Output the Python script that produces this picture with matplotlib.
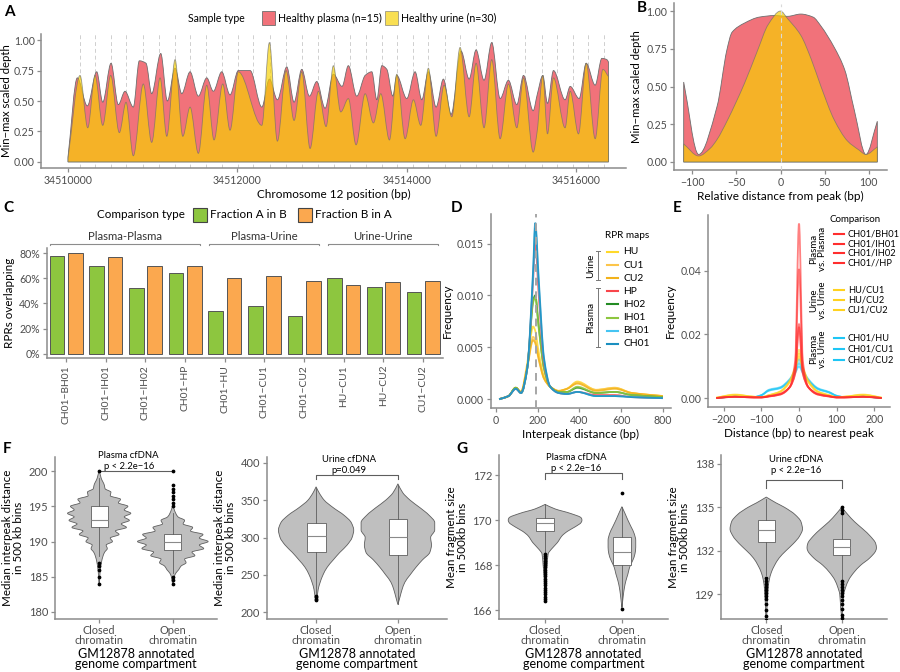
import numpy as np
import matplotlib
matplotlib.use("Agg")
import matplotlib.pyplot as plt
from matplotlib.path import Path
from matplotlib.patches import PathPatch, Rectangle
from matplotlib.lines import Line2D

plt.rcParams["font.family"] = ["Lato", "DejaVu Sans"]

# ---------------- data ----------------
# A: coverage around chr12 (bp offset from 34510000, min-max scaled depth at local extrema)
a_base = 34510000
a_peaks = [142, 319, 504, 685, 885, 1074, 1263, 1440, 1629, 1818, 2007, 2184, 2385, 2574,
           2766, 2955, 3140, 3329, 3518, 3704, 3881, 4077, 4254, 4451, 4628, 4817, 5002,
           5198, 5396, 5593, 5770, 5959, 6143, 6328]
plasma_x = [0, 110, 228, 339, 410, 508, 594, 673, 771, 842, 921, 988, 1095, 1173, 1264, 1343,
            1441, 1539, 1638, 1716, 1815, 1913, 2011, 2150, 2288, 2378, 2472, 2583, 2669, 2760,
            2850, 2937, 3035, 3133, 3236, 3310, 3409, 3508, 3587, 3646, 3705, 3764, 3835, 3882,
            4000, 4098, 4177, 4255, 4346, 4432, 4523, 4641, 4736, 4818, 4912, 5003, 5102, 5200,
            5299, 5378, 5492, 5539, 5606, 5661, 5732, 5869, 5929, 6035, 6118, 6224, 6303, 6362, 6381]
plasma_y = [0.04, 0.69, 0.46, 0.74, 0.49, 0.81, 0.47, 0.58, 0.45, 0.83, 0.81, 0.56, 0.89, 0.50,
            0.77, 0.56, 0.74, 0.54, 0.69, 0.58, 0.74, 0.55, 0.75, 0.75, 0.45, 0.68, 0.51, 0.78,
            0.49, 0.76, 0.54, 0.66, 0.44, 0.72, 0.62, 0.79, 0.54, 0.71, 0.74, 0.51, 0.79, 0.76,
            0.54, 0.71, 0.52, 0.74, 0.51, 0.74, 0.45, 0.68, 0.39, 0.91, 0.68, 0.92, 0.67, 0.98,
            0.52, 0.67, 0.47, 0.71, 0.42, 0.55, 0.71, 0.48, 0.75, 0.51, 0.62, 0.52, 0.81, 0.63,
            0.85, 0.84, 0.82]
urine_x = [0, 142, 233, 319, 410, 504, 606, 685, 771, 889, 988, 1087, 1166, 1264, 1355, 1441,
           1539, 1638, 1724, 1827, 1913, 2011, 2288, 2378, 2472, 2575, 2669, 2760, 2858, 2956,
           3047, 3133, 3220, 3310, 3401, 3508, 3606, 3693, 3795, 3882, 3980, 4078, 4165, 4255,
           4346, 4440, 4531, 4629, 4736, 4818, 4912, 5003, 5102, 5200, 5299, 5378, 5492, 5539,
           5606, 5661, 5732, 5869, 5929, 6027, 6118, 6224, 6315, 6381]
urine_y = [0.03, 0.71, 0.28, 0.71, 0.30, 0.71, 0.24, 0.49, 0.05, 0.64, 0.16, 0.69, 0.21, 0.84,
           0.21, 0.45, 0.07, 0.63, 0.18, 0.64, 0.26, 0.74, 0.30, 0.98, 0.17, 0.75, 0.34, 0.74,
           0.11, 0.58, 0.29, 0.79, 0.41, 0.52, 0.14, 0.56, 0.32, 0.56, 0.18, 0.72, 0.19, 0.51,
           0.30, 0.77, 0.21, 0.63, 0.37, 0.94, 0.37, 0.81, 0.28, 0.84, 0.19, 0.64, 0.28, 0.69,
           0.08, 0.25, 0.71, 0.23, 0.69, 0.28, 0.58, 0.23, 0.81, 0.19, 0.76, 0.70]

# B: aggregate profile around peaks
b_plasma_x = [-110, -93, -72, -61, -55, -41, -24, -7, 8, 23, 37, 46, 61, 73, 84, 97, 110]
b_plasma_y = [0.53, 0.05, 0.37, 0.74, 0.86, 0.92, 0.96, 0.97, 0.965, 0.98, 0.96, 0.90, 0.76,
              0.61, 0.34, 0.05, 0.27]
b_urine_x = [-110, -93, -80, -72, -60, -41, -26, -14, 0, 8, 23, 35, 46, 61, 76, 89, 97, 110]
b_urine_y = [0.12, 0.04, 0.09, 0.15, 0.28, 0.52, 0.74, 0.91, 1.00, 0.95, 0.84, 0.68, 0.50,
             0.28, 0.14, 0.08, 0.05, 0.10]

# C: RPR overlap
c_pairs = ["CH01−BH01", "CH01−IH01", "CH01−IH02", "CH01−HP", "CH01−HU", "CH01−CU1",
           "CH01−CU2", "HU−CU1", "HU−CU2", "CU1−CU2"]
frac_a_in_b = [78, 70, 52, 64, 34, 38, 30, 60, 53, 49]
frac_b_in_a = [80, 77, 70, 70, 60, 62, 58, 55, 57, 58]
c_groups = [("Plasma-Plasma", 0, 3), ("Plasma-Urine", 4, 6), ("Urine-Urine", 7, 9)]

# D: interpeak distance densities
d_x = [15, 60, 95, 120, 150, 178, 188, 205, 230, 260, 300, 340, 390, 480, 570, 650, 800]
d_series = {
    "HU":   [0, 0.0003, 0.0011, 0.0007, 0.0035, 0.0070, 0.0066, 0.0045, 0.0022, 0.0012, 0.0008, 0.0010, 0.0017, 0.0009, 0.0011, 0.0006, 0.0003],
    "CU1":  [0, 0.0003, 0.0011, 0.0007, 0.0032, 0.0060, 0.0057, 0.0040, 0.0020, 0.0012, 0.0008, 0.0010, 0.0016, 0.0009, 0.0011, 0.0006, 0.0003],
    "CU2":  [0, 0.0003, 0.0011, 0.0007, 0.0031, 0.0057, 0.0054, 0.0038, 0.0020, 0.0012, 0.0008, 0.0010, 0.0015, 0.0008, 0.0010, 0.0006, 0.0003],
    "HP":   [0, 0.0003, 0.0010, 0.0006, 0.0030, 0.0115, 0.0150, 0.0100, 0.0035, 0.0012, 0.0006, 0.0005, 0.0007, 0.0004, 0.0004, 0.0002, 0.0001],
    "IH02": [0, 0.0003, 0.0011, 0.0006, 0.0030, 0.0095, 0.0100, 0.0070, 0.0030, 0.0012, 0.0007, 0.0007, 0.0011, 0.0006, 0.0007, 0.0004, 0.0002],
    "IH01": [0, 0.0003, 0.0011, 0.0006, 0.0030, 0.0093, 0.0098, 0.0068, 0.0030, 0.0012, 0.0007, 0.0007, 0.0012, 0.0006, 0.0007, 0.0004, 0.0002],
    "BH01": [0, 0.0003, 0.0010, 0.0006, 0.0030, 0.0120, 0.0165, 0.0110, 0.0038, 0.0012, 0.0006, 0.0005, 0.0007, 0.0003, 0.0003, 0.0002, 0.0001],
    "CH01": [0, 0.0003, 0.0010, 0.0006, 0.0030, 0.0125, 0.0170, 0.0115, 0.0040, 0.0012, 0.0006, 0.0005, 0.0007, 0.0003, 0.0003, 0.0002, 0.0001],
}
d_colors = {"HU": "#FFD92A", "CU1": "#FCC54A", "CU2": "#F2B21B", "HP": "#F8454B",
            "IH02": "#238B23", "IH01": "#8DC63F", "BH01": "#45C4F2", "CH01": "#1B8FC0"}

# E: distance to nearest peak
e_x = [-220, -170, -120, -100, -80, -50, -25, -10, 0, 10, 25, 50, 80, 100, 120, 170, 220]
e_series = {
    "CH01/BH01": [0.0001, 0.0005, 0.0003, 0.0003, 0.0006, 0.0012, 0.0035, 0.0120, 0.0547, 0.0120, 0.0035, 0.0012, 0.0006, 0.0003, 0.0003, 0.0005, 0.0001],
    "CH01/IH01": [0.0001, 0.0005, 0.0003, 0.0003, 0.0006, 0.0012, 0.0034, 0.0100, 0.0405, 0.0100, 0.0034, 0.0012, 0.0006, 0.0003, 0.0003, 0.0005, 0.0001],
    "CH01/IH02": [0.0001, 0.0005, 0.0003, 0.0003, 0.0007, 0.0014, 0.0035, 0.0080, 0.0232, 0.0080, 0.0035, 0.0014, 0.0007, 0.0003, 0.0003, 0.0005, 0.0001],
    "CH01//HP":  [0.0001, 0.0005, 0.0003, 0.0003, 0.0007, 0.0014, 0.0035, 0.0078, 0.0222, 0.0078, 0.0035, 0.0014, 0.0007, 0.0003, 0.0003, 0.0005, 0.0001],
    "HU/CU1":    [0.0002, 0.0012, 0.0005, 0.0004, 0.0010, 0.0022, 0.0055, 0.0100, 0.0152, 0.0100, 0.0055, 0.0022, 0.0010, 0.0004, 0.0005, 0.0012, 0.0002],
    "HU/CU2":    [0.0002, 0.0011, 0.0005, 0.0004, 0.0010, 0.0021, 0.0052, 0.0095, 0.0140, 0.0095, 0.0052, 0.0021, 0.0010, 0.0004, 0.0005, 0.0011, 0.0002],
    "CU1/CU2":   [0.0002, 0.0010, 0.0005, 0.0004, 0.0009, 0.0020, 0.0050, 0.0090, 0.0130, 0.0090, 0.0050, 0.0020, 0.0009, 0.0004, 0.0005, 0.0010, 0.0002],
    "CH01/HU":   [0.0001, 0.0006, 0.0004, 0.0010, 0.0027, 0.0035, 0.0060, 0.0090, 0.0122, 0.0090, 0.0060, 0.0032, 0.0020, 0.0008, 0.0004, 0.0006, 0.0001],
    "CH01/CU1":  [0.0001, 0.0006, 0.0004, 0.0010, 0.0025, 0.0033, 0.0057, 0.0085, 0.0110, 0.0085, 0.0057, 0.0030, 0.0019, 0.0008, 0.0004, 0.0006, 0.0001],
    "CH01/CU2":  [0.0001, 0.0006, 0.0004, 0.0010, 0.0024, 0.0032, 0.0055, 0.0080, 0.0100, 0.0080, 0.0055, 0.0029, 0.0018, 0.0008, 0.0004, 0.0006, 0.0001],
}
e_groups = [("Plasma\nvs. Plasma", ["CH01/BH01", "CH01/IH01", "CH01/IH02", "CH01//HP"], "#FF2E2E"),
            ("Urine\nvs. Urine", ["HU/CU1", "HU/CU2", "CU1/CU2"], "#FFD21F"),
            ("Plasma\nvs. Urine", ["CH01/HU", "CH01/CU1", "CH01/CU2"], "#1EC6F5")]

# F / G: violin profiles (value level, half width in category units) and box stats
f_plasma = {
    "closed": ([184, 185, 186, 187, 188, 188.5, 189, 189.5, 190, 190.5, 191, 191.5, 192, 192.5, 193,
                193.5, 194, 194.5, 195, 195.5, 196, 196.5, 197, 197.5, 198, 199, 200],
               [0.004, 0.008, 0.016, 0.03, 0.054, 0.075, 0.11, 0.095, 0.18, 0.15, 0.27, 0.22, 0.37,
                0.30, 0.41, 0.34, 0.43, 0.34, 0.39, 0.26, 0.29, 0.15, 0.16, 0.08, 0.07, 0.027, 0.004],
               dict(q1=192, med=193, q3=195, whislo=188, whishi=199,
                    fliers=[200, 187, 186.5, 186, 185, 184])),
    "open": ([184, 185, 185.5, 186, 186.5, 187, 187.5, 188, 188.5, 189, 189.5, 190, 190.5, 191,
              191.5, 192, 192.5, 193, 193.5, 194, 194.5, 195],
             [0.004, 0.02, 0.04, 0.08, 0.11, 0.18, 0.16, 0.30, 0.26, 0.42, 0.36, 0.48, 0.36, 0.41,
              0.24, 0.27, 0.14, 0.16, 0.07, 0.04, 0.02, 0.005],
             dict(q1=188.75, med=190, q3=191, whislo=185.5, whishi=194,
                  fliers=[200, 198, 197.5, 197, 196.5, 196, 195.5, 195, 185, 184.5, 184])),
}
f_urine = {
    "closed": ([215, 220, 230, 240, 250, 260, 270, 280, 290, 300, 310, 320, 330, 340, 350, 360, 368],
               [0, 0.012, 0.025, 0.05, 0.085, 0.135, 0.21, 0.29, 0.38, 0.44, 0.46, 0.43, 0.34, 0.21,
                0.10, 0.037, 0],
               dict(q1=281, med=302, q3=319, whislo=224, whishi=366,
                    fliers=[222, 220, 218, 216])),
    "open": ([210, 220, 230, 240, 250, 260, 270, 280, 290, 300, 310, 320, 330, 340, 350, 360, 372],
             [0, 0.025, 0.05, 0.085, 0.15, 0.22, 0.30, 0.39, 0.41, 0.40, 0.45, 0.45, 0.38, 0.27,
              0.15, 0.06, 0],
             dict(q1=277, med=301, q3=325, whislo=211, whishi=371, fliers=[])),
}
g_plasma = {
    "closed": ([166.4, 167, 167.5, 168, 168.5, 168.7, 169, 169.3, 169.5, 169.7, 169.9, 170, 170.1,
                170.3, 170.5, 170.7],
               [0, 0.007, 0.013, 0.026, 0.04, 0.08, 0.16, 0.22, 0.29, 0.39, 0.47, 0.48, 0.47, 0.33,
                0.13, 0],
               dict(q1=169.5, med=169.87, q3=170.1, whislo=168.6, whishi=170.7,
                    fliers=[168.5, 168.4, 168.3, 168.2, 168.1, 168.0, 167.9, 167.8, 167.7, 167.6,
                            167.5, 167.4, 167.3, 167.2, 167.1, 167.0, 166.9, 166.8, 166.7, 166.6,
                            166.5, 166.4])),
    "open": ([166.1, 166.4, 166.7, 167, 167.3, 167.6, 167.9, 168.2, 168.5, 168.8, 169.1, 169.4,
              169.7, 170, 170.3, 170.6],
             [0, 0.01, 0.02, 0.033, 0.052, 0.078, 0.10, 0.14, 0.17, 0.18, 0.18, 0.16, 0.12, 0.078,
              0.04, 0],
             dict(q1=168.0, med=168.6, q3=169.25, whislo=166.2, whishi=170.6,
                  fliers=[171.2, 166.05])),
}
g_urine = {
    "closed": ([126.8, 127, 128, 129, 129.5, 130, 130.5, 131, 131.5, 132, 132.5, 133, 133.5, 134,
                134.5, 135, 135.3, 135.7],
               [0, 0.004, 0.009, 0.02, 0.026, 0.04, 0.066, 0.11, 0.17, 0.26, 0.36, 0.44, 0.48, 0.46,
                0.38, 0.24, 0.13, 0],
               dict(q1=132.6, med=133.45, q3=134.15, whislo=130.3, whishi=135.6,
                    fliers=[130.1, 129.9, 129.7, 129.5, 129.3, 129.1, 128.9, 128.7, 128.3, 127.9,
                            127.5, 127.2, 127.0, 126.9])),
    "open": ([127.4, 128, 129, 129.5, 130, 130.5, 131, 131.5, 132, 132.2, 132.5, 133, 133.5, 134,
              134.5, 135],
             [0, 0.013, 0.026, 0.053, 0.093, 0.16, 0.25, 0.37, 0.45, 0.46, 0.45, 0.38, 0.28, 0.17,
              0.08, 0],
             dict(q1=131.7, med=132.25, q3=132.8, whislo=130.05, whishi=134.45,
                  fliers=[134.6, 134.8, 135.0, 129.9, 129.7, 129.5, 129.3, 129.1, 128.9, 128.6,
                          128.3, 128.0, 127.6, 127.4])),
}

# ---------------- helpers ----------------
W, H = 900, 672
fig = plt.figure(figsize=(9, 6.72), dpi=100)
AX_COL = "#8c8c8c"
TXT = "#4d4d4d"
RED = "#F1727A"
YEL = (0.97, 0.82, 0.0)
TICK = 7.6


def add_ax(l, t, r, b):
    return fig.add_axes([l / W, 1 - b / H, (r - l) / W, (b - t) / H])


def ftext(x, y, s, **kw):
    kw.setdefault("va", "center")
    return fig.text(x / W, 1 - y / H, s, **kw)


def style(ax):
    for s in ["top", "right"]:
        ax.spines[s].set_visible(False)
    for s in ["left", "bottom"]:
        ax.spines[s].set_color(AX_COL)
        ax.spines[s].set_linewidth(1.1)
    ax.tick_params(color=AX_COL, labelcolor=TXT, labelsize=TICK, length=3, width=0.9, pad=2)
    ax.patch.set_alpha(0)


def bezier(xs, ys):
    # smooth monotone curve through the given points (drawn as cubic bezier segments)
    xs = np.asarray(xs, float)
    ys = np.asarray(ys, float)
    d = np.diff(ys) / np.diff(xs)
    m = np.zeros(len(xs))
    m[0], m[-1] = d[0], d[-1]
    for i in range(1, len(xs) - 1):
        if d[i - 1] * d[i] > 0:
            m[i] = 2 * d[i - 1] * d[i] / (d[i - 1] + d[i])
    pts = [(xs[0], ys[0])]
    for i in range(len(xs) - 1):
        h = xs[i + 1] - xs[i]
        pts += [(xs[i] + h / 3, ys[i] + m[i] * h / 3),
                (xs[i + 1] - h / 3, ys[i + 1] - m[i + 1] * h / 3),
                (xs[i + 1], ys[i + 1])]
    return pts


def line_path(xs, ys):
    pts = bezier(xs, ys)
    return Path(pts, [Path.MOVETO] + [Path.CURVE4] * (len(pts) - 1))


def area_path(xs, ys):
    pts = bezier(xs, ys)
    pts += [(xs[-1], 0), (xs[0], 0), (xs[0], ys[0])]
    codes = [Path.MOVETO] + [Path.CURVE4] * (len(pts) - 4) + [Path.LINETO, Path.LINETO, Path.CLOSEPOLY]
    return Path(pts, codes)


def violin(ax, pos, levels, half, stats):
    levels = np.asarray(levels, float)
    half = np.asarray(half, float)
    right = [(b, a) for a, b in bezier(levels, pos + half)]
    left = [(b, a) for a, b in bezier(levels[::-1], pos - half[::-1])]
    verts = right + left + [right[0]]
    codes = ([Path.MOVETO] + [Path.CURVE4] * (len(right) - 1) + [Path.LINETO]
             + [Path.CURVE4] * (len(left) - 1) + [Path.CLOSEPOLY])
    ax.add_patch(PathPatch(Path(verts, codes), facecolor="#bfbfbf", edgecolor="#5e5e5e",
                           lw=0.6, zorder=1))
    ax.bxp([stats], positions=[pos], widths=0.23, showcaps=False, patch_artist=True,
           manage_ticks=False, zorder=3,
           boxprops=dict(facecolor="white", edgecolor="#5e5e5e", linewidth=0.6),
           whiskerprops=dict(color="#5e5e5e", linewidth=0.6),
           medianprops=dict(color="#8a8a8a", linewidth=0.8),
           flierprops=dict(marker="o", markersize=1.7, markerfacecolor="black",
                           markeredgecolor="black", linestyle="none"))


def violin_panel(box, data, ylim, yticks, ylabel, title, ptext, bracket, title_y):
    ax = add_ax(*box)
    style(ax)
    for pos, key in enumerate(["closed", "open"]):
        lv, hw, st = data[key]
        violin(ax, pos, lv, hw, st)
    ax.set_xlim(-0.6, 1.6)
    ax.set_ylim(*ylim)
    ax.set_yticks(yticks)
    ax.set_xticks([0, 1])
    ax.set_xticklabels(["Closed\nchromatin", "Open\nchromatin"], fontsize=7.8, linespacing=0.88)
    ax.tick_params(axis="y", labelsize=8)
    ax.tick_params(axis="x", pad=1.5)
    ax.set_ylabel(ylabel, fontsize=8.4, color="black", linespacing=1.0, labelpad=3)
    ax.set_xlabel("GM12878 annotated\ngenome compartment", fontsize=9.0, linespacing=0.88,
                  labelpad=1)
    y0, y1 = bracket
    ax.plot([0, 0, 1, 1], [y0, y1, y1, y0], color="#5e5e5e", lw=0.8, clip_on=False)
    cx = (box[0] + box[2]) / 2 - 0.1 * (box[2] - box[0]) / 2.2
    ftext(cx, title_y, title, ha="center", fontsize=6.8)
    ftext(cx, title_y + 11.5, ptext, ha="center", fontsize=6.8)
    return ax


# ---------------- panel A ----------------
axA = add_ax(41, 34, 626, 168)
style(axA)
for p in a_peaks:
    axA.axvline(a_base + p, color="#cfcfcf", lw=0.7, ls=(0, (4, 3)), zorder=0)
axA.add_patch(PathPatch(area_path(a_base + np.array(plasma_x), plasma_y), facecolor=RED,
                        edgecolor="#6e6e6e", lw=0.6, zorder=1))
axA.add_patch(PathPatch(area_path(a_base + np.array(urine_x), urine_y), facecolor=YEL, alpha=0.68,
                        edgecolor="#6e6e6e", lw=0.6, zorder=2))
axA.set_xlim(a_base - 319, a_base + 6588)
axA.set_ylim(-0.05, 1.05)
axA.set_xticks([a_base, a_base + 2000, a_base + 4000, a_base + 6000])
axA.set_xticklabels([str(a_base), str(a_base + 2000), str(a_base + 4000), str(a_base + 6000)])
axA.set_yticks([0, 0.25, 0.5, 0.75, 1.0])
axA.set_yticklabels(["0.00", "0.25", "0.50", "0.75", "1.00"])
axA.tick_params(axis="y", pad=1.5)
axA.set_xlabel("Chromosome 12 position (bp)", fontsize=8.5, labelpad=2)
axA.set_ylabel("Min−max scaled depth", fontsize=8.2, labelpad=1.5)

ftext(188, 18, "Sample type", fontsize=7.6)
for x0, col, al, lab in [(262, RED, 1, "Healthy plasma (n=15)"),
                         (385, YEL, 0.68, "Healthy urine (n=30)")]:
    fig.add_artist(Rectangle((x0 / W, 1 - 25 / H), 13 / W, 14 / H, facecolor=col, alpha=al,
                             edgecolor="#6e6e6e", lw=0.6, transform=fig.transFigure))
    ftext(x0 + 16, 18, lab, fontsize=7.6)

# ---------------- panel B ----------------
axB = add_ax(674, 3.5, 887, 170)
style(axB)
axB.add_patch(PathPatch(area_path(b_plasma_x, b_plasma_y), facecolor=RED, edgecolor="#6e6e6e",
                        lw=0.6, zorder=1))
axB.add_patch(PathPatch(area_path(b_urine_x, b_urine_y), facecolor=YEL, alpha=0.68,
                        edgecolor="#6e6e6e", lw=0.6, zorder=2))
axB.axvline(0, color="#d9d9d9", lw=0.8, ls=(0, (4, 3)), zorder=3)
axB.set_xlim(-121, 121)
axB.set_ylim(-0.053, 1.05)
axB.set_xticks([-100, -50, 0, 50, 100])
axB.set_yticks([0, 0.25, 0.5, 0.75, 1.0])
axB.set_yticklabels(["0.00", "0.25", "0.50", "0.75", "1.00"])
axB.set_xlabel("Relative distance from peak (bp)", fontsize=8.5, labelpad=2)
axB.set_ylabel("Min−max scaled depth", fontsize=8.2, labelpad=3)

# ---------------- panel C ----------------
GREEN, ORANGE = "#8DC63F", "#FBA84F"
axC = add_ax(47, 248, 443, 358)
style(axC)
xc = np.arange(len(c_pairs))
axC.bar(xc - 0.23, frac_a_in_b, 0.37, color=GREEN, edgecolor="#555555", lw=0.7)
axC.bar(xc + 0.23, frac_b_in_a, 0.37, color=ORANGE, edgecolor="#555555", lw=0.7)
axC.set_xlim(-0.48, 9.5)
axC.set_ylim(-3.3, 84)
axC.set_yticks([0, 20, 40, 60, 80])
axC.set_yticklabels(["0%", "20%", "40%", "60%", "80%"])
axC.set_xticks(xc)
axC.set_xticklabels(c_pairs, rotation=90, fontsize=7.4)
axC.set_ylabel("RPRs overlapping", fontsize=8.4, labelpad=3)
for lab, i0, i1 in c_groups:
    a, b = i0 - 0.4, i1 + 0.38
    axC.plot([a, a, b, b], [86, 87.3, 87.3, 86], color="#8c8c8c", lw=0.8, clip_on=False)
    axC.text((a + b) / 2, 89, lab, ha="center", va="bottom", fontsize=8.2, color="#333333",
             clip_on=False)

ftext(97, 215, "Comparison type", fontsize=8.4)
for x0, col, lab in [(193, GREEN, "Fraction A in B"), (298, ORANGE, "Fraction B in A")]:
    fig.add_artist(Rectangle((x0 / W, 1 - 222 / H), 14 / W, 14 / H, facecolor=col,
                             edgecolor="#444444", lw=0.8, transform=fig.transFigure))
    ftext(x0 + 17, 215, lab, fontsize=8.4)

# ---------------- panel D ----------------
axD = add_ax(491, 214, 671, 408)
style(axD)
for name in ["HU", "CU1", "CU2", "IH02", "IH01", "HP", "BH01", "CH01"]:
    axD.add_patch(PathPatch(line_path(d_x, d_series[name]), facecolor="none",
                            edgecolor=d_colors[name], lw=1.3, alpha=0.85))
axD.axvline(190, color="#a6a6a6", lw=1.4, ls=(0, (4, 3)), zorder=5)
axD.set_xlim(-24, 839)
axD.set_ylim(-0.00085, 0.01785)
axD.set_xticks([0, 200, 400, 600, 800])
axD.set_yticks([0, 0.005, 0.010, 0.015])
axD.set_yticklabels(["0.000", "0.005", "0.010", "0.015"])
axD.set_xlabel("Interpeak distance (bp)", fontsize=8.4, labelpad=2)
axD.set_ylabel("Frequency", fontsize=8.4, labelpad=3)

ftext(605, 236, "RPR maps", fontsize=7.2)
d_rows = ["HU", "CU1", "CU2", "HP", "IH02", "IH01", "BH01", "CH01"]
for k, name in enumerate(d_rows):
    yy = 252 + k * 13.1
    fig.add_artist(Line2D([607 / W, 618 / W], [1 - yy / H, 1 - yy / H], color=d_colors[name],
                          lw=1.5, transform=fig.transFigure))
    ftext(623, yy, name, fontsize=7.4)
for lab, y0, y1 in [("Urine", 251, 280), ("Plasma", 288, 347)]:
    fig.add_artist(Line2D([598 / W, 598 / W], [1 - y0 / H, 1 - y1 / H], color="#777777",
                          lw=0.7, transform=fig.transFigure))
    for yy in (y0, y1):
        fig.add_artist(Line2D([596 / W, 600 / W], [1 - yy / H, 1 - yy / H], color="#777777",
                              lw=0.7, transform=fig.transFigure))
    ftext(591, (y0 + y1) / 2, lab, rotation=90, ha="center", fontsize=7.2)

# ---------------- panel E ----------------
axE = add_ax(708, 215, 890, 407)
style(axE)
for lab, names, col in e_groups[::-1]:
    for name in names:
        axE.add_patch(PathPatch(line_path(e_x, e_series[name]), facecolor="none",
                                edgecolor=col, lw=1.3, alpha=0.6))
axE.set_xlim(-242, 242)
axE.set_ylim(-0.0027, 0.0574)
axE.set_xticks([-200, -100, 0, 100, 200])
axE.set_yticks([0, 0.02, 0.04])
axE.set_yticklabels(["0.00", "0.02", "0.04"])
axE.set_xlabel("Distance (bp) to nearest peak", fontsize=8.4, labelpad=2)
axE.set_ylabel("Frequency", fontsize=8.4, labelpad=3)

ftext(829, 219, "Comparison", fontsize=7.0)
e_rows_y = [[234, 244, 253.5, 263], [290, 300, 310], [338, 349, 360]]
for (lab, names, col), ys in zip(e_groups, e_rows_y):
    for name, yy in zip(names, ys):
        fig.add_artist(Line2D([834 / W, 844 / W], [1 - yy / H, 1 - yy / H], color=col,
                              lw=1.5, transform=fig.transFigure))
        ftext(848, yy, name, fontsize=6.7)
    ftext(818, (ys[0] + ys[-1]) / 2, lab, rotation=90, ha="center", fontsize=7,
          linespacing=1.0, multialignment="center")

# ---------------- panels F and G ----------------
violin_panel((55, 457, 217, 619), f_plasma, (179.0, 202.0), [180, 185, 190, 195, 200],
             "Median interpeak distance\nin 500 kb bins", "Plasma cfDNA", "p < 2.2e−16",
             (200, 200), 455)
violin_panel((267, 457, 447, 619), f_urine, (190.7, 408), [200, 250, 300, 350, 400],
             "Median interpeak distance\nin 500 kb bins", "Urine cfDNA", "p=0.049",
             (378, 384), 459)
violin_panel((499, 455, 668, 619), g_plasma, (165.6, 172.9), [166, 168, 170, 172],
             "Mean fragment size\nin 500kb bins", "Plasma cfDNA", "p < 2.2e−16",
             (171.85, 172.1), 457)
violin_panel((721, 455, 887, 619), g_urine, (127.3, 138.6), [129, 132, 135, 138],
             "Mean fragment size\nin 500kb bins", "Urine cfDNA", "p < 2.2e−16",
             (136.3, 136.9), 459)

# ---------------- panel letters ----------------
for lab, x, y in [("A", 4, 12), ("B", 637, 8), ("C", 3, 208), ("D", 451, 208),
                  ("E", 673, 208), ("F", 3, 449), ("G", 456, 449)]:
    ftext(x, y, lab, fontsize=11, fontweight="bold")

fig.savefig("out.png", dpi=100)
